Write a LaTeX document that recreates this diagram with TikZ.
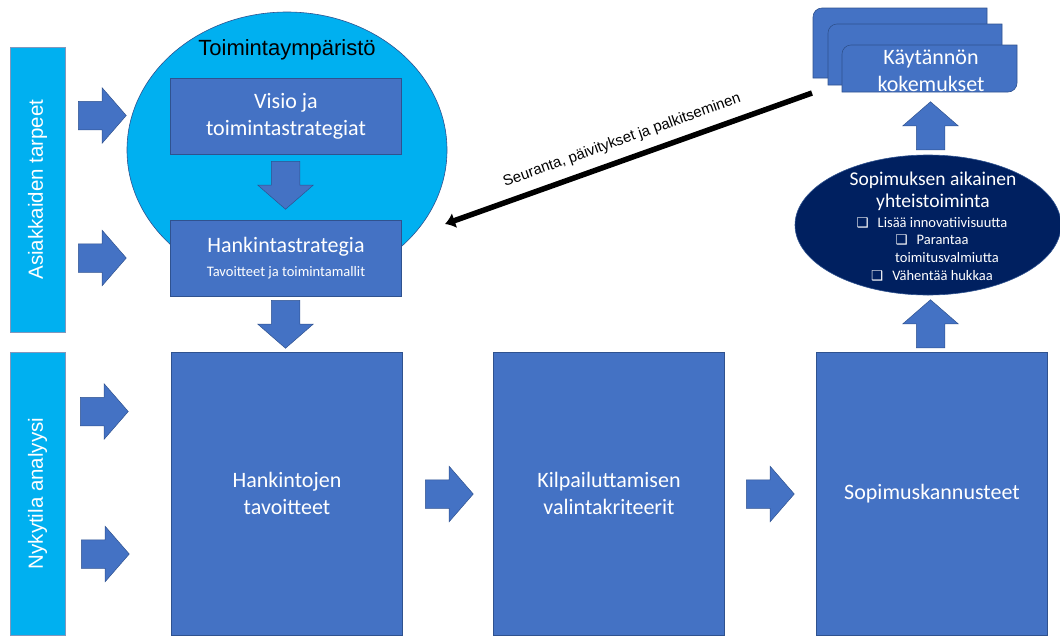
\documentclass[tikz,border=0pt]{standalone}
\usepackage{fontspec}
\setmainfont{Carlito}
\newfontfamily\arialfont{Liberation Sans}
\newfontfamily\symfont{DejaVu Sans}
\usetikzlibrary{shapes.geometric,shapes.arrows,arrows.meta}
\definecolor{cyanbar}{HTML}{00B0F0}
\definecolor{boxblue}{HTML}{4472C4}
\definecolor{boxline}{HTML}{2F528F}
\definecolor{navy}{HTML}{002060}
\newcommand\fsz[2]{\fontsize{#1}{#2}\selectfont}
\newcommand\cbox{{\symfont\fsz{13.5}{15}❑}\hspace{9pt}}

\begin{document}
\begin{tikzpicture}[x=1pt,y=-1pt,
  bar/.style={fill=cyanbar,draw=boxline!60,line width=0.5pt,rotate=90,
    minimum height=55pt,text=white,font=\arialfont\fsz{20.5}{24}},
  box/.style={fill=boxblue,draw=boxline,line width=0.6pt,minimum width=231pt,
    text=white,align=center,font=\fsz{22}{27}},
  blockarrow/.style={single arrow,fill=boxblue,draw=boxline,line width=0.5pt,
    inner xsep=0pt,inner ysep=14pt,single arrow head extend=13.5pt,
    single arrow head indent=0pt,single arrow tip angle=98,
    minimum height=48pt,anchor=tail},
  doc/.style={fill=boxblue,draw=boxline,line width=0.6pt},
  feedback/.style={line width=5.5pt,{Latex[length=10pt,width=16pt]}-}]
  \useasboundingbox (0,0) rectangle (1060,635);

  % side bars
  \node[bar,minimum width=285pt] (needs) at (37.5,189.5) {Asiakkaiden tarpeet};
  \node[bar,minimum width=283pt] (current) at (37.5,493.5) {Nykytila analyysi};
  \node[blockarrow] (in1) at (78,115.5) {};
  \node[blockarrow] (in2) at (78,258) {};
  \node[blockarrow] (in3) at (80,411.5) {};
  \node[blockarrow] (in4) at (81,554) {};

  % operating environment
  \node[ellipse,fill=cyanbar,draw=boxline,line width=0.6pt,
    minimum width=320pt,minimum height=276pt] (env) at (287,150) {};
  \node[font=\arialfont\fsz{22}{26}] (envtitle) at (287,50) {Toimintaympäristö};
  \node[box,minimum height=76pt] (vision) at (286,116) {Visio ja\\toimintastrategiat};
  \node[box,minimum height=76pt] (strategy) at (286,258)
    {Hankintastrategia\\[-3pt]{\fsz{14.5}{17}Tavoitteet ja toimintamallit}};
  \node[blockarrow,rotate=270] (down1) at (285.5,161) {};
  \node[blockarrow,rotate=270] (down2) at (285.5,300) {};

  % main row
  \node[box,minimum height=283pt] (goals) at (287,493.5) {Hankintojen\\tavoitteet};
  \node[box,minimum height=283pt] (criteria) at (609,493.5) {Kilpailuttamisen\\valintakriteerit};
  \node[box,minimum height=283pt] (incentives) at (932,493.5) {Sopimuskannusteet};
  \node[blockarrow] (next1) at (425,494) {};
  \node[blockarrow] (next2) at (746,494) {};

  % cooperation during the contract
  \node[blockarrow,rotate=90] (up1) at (930.5,348) {};
  \node[ellipse,fill=navy,draw=boxline,line width=0.6pt,
    minimum width=266pt,minimum height=140pt] (coop) at (928,225) {};
  \node[text=white,align=center,font=\fsz{19.5}{22}] (cooptitle) at (933,191)
    {Sopimuksen aikainen\\yhteistoiminta};
  \node[text=white,align=center,font=\fsz{14.5}{17.7}] (cooplist) at (932,249)
    {\cbox Lisää innovatiivisuutta\\\cbox Parantaa\\
     \hspace*{30pt}toimitusvalmiutta\\\cbox Vähentää hukkaa};
  \node[blockarrow,rotate=90] (up2) at (930.5,150) {};

  % practical experiences
  \filldraw[doc] (813,78) -- (813,17) arc[start angle=180,end angle=90,radius=9pt]
    -- (987,8) -- (987,78) -- cycle;
  \filldraw[doc] (828,85) -- (828,33) arc[start angle=180,end angle=90,radius=9pt]
    -- (1002,24) -- (1002,85) -- cycle;
  \filldraw[doc] (842,92) -- (842,54) arc[start angle=180,end angle=90,radius=9pt]
    -- (1017,45) -- (1017,83) arc[start angle=0,end angle=-90,radius=9pt] -- cycle;
  \node[text=white,align=center,font=\fsz{22}{27}] (practice) at (931,71)
    {Käytännön\\kokemukset};

  % feedback
  \coordinate (fbtip) at (445,224);
  \coordinate (fbtail) at (812,93);
  \draw[feedback] (fbtip) -- node[sloped,above=6pt,font=\arialfont\fsz{15}{18}]
    {Seuranta, päivitykset ja palkitseminen} (fbtail);
\end{tikzpicture}
\end{document}
